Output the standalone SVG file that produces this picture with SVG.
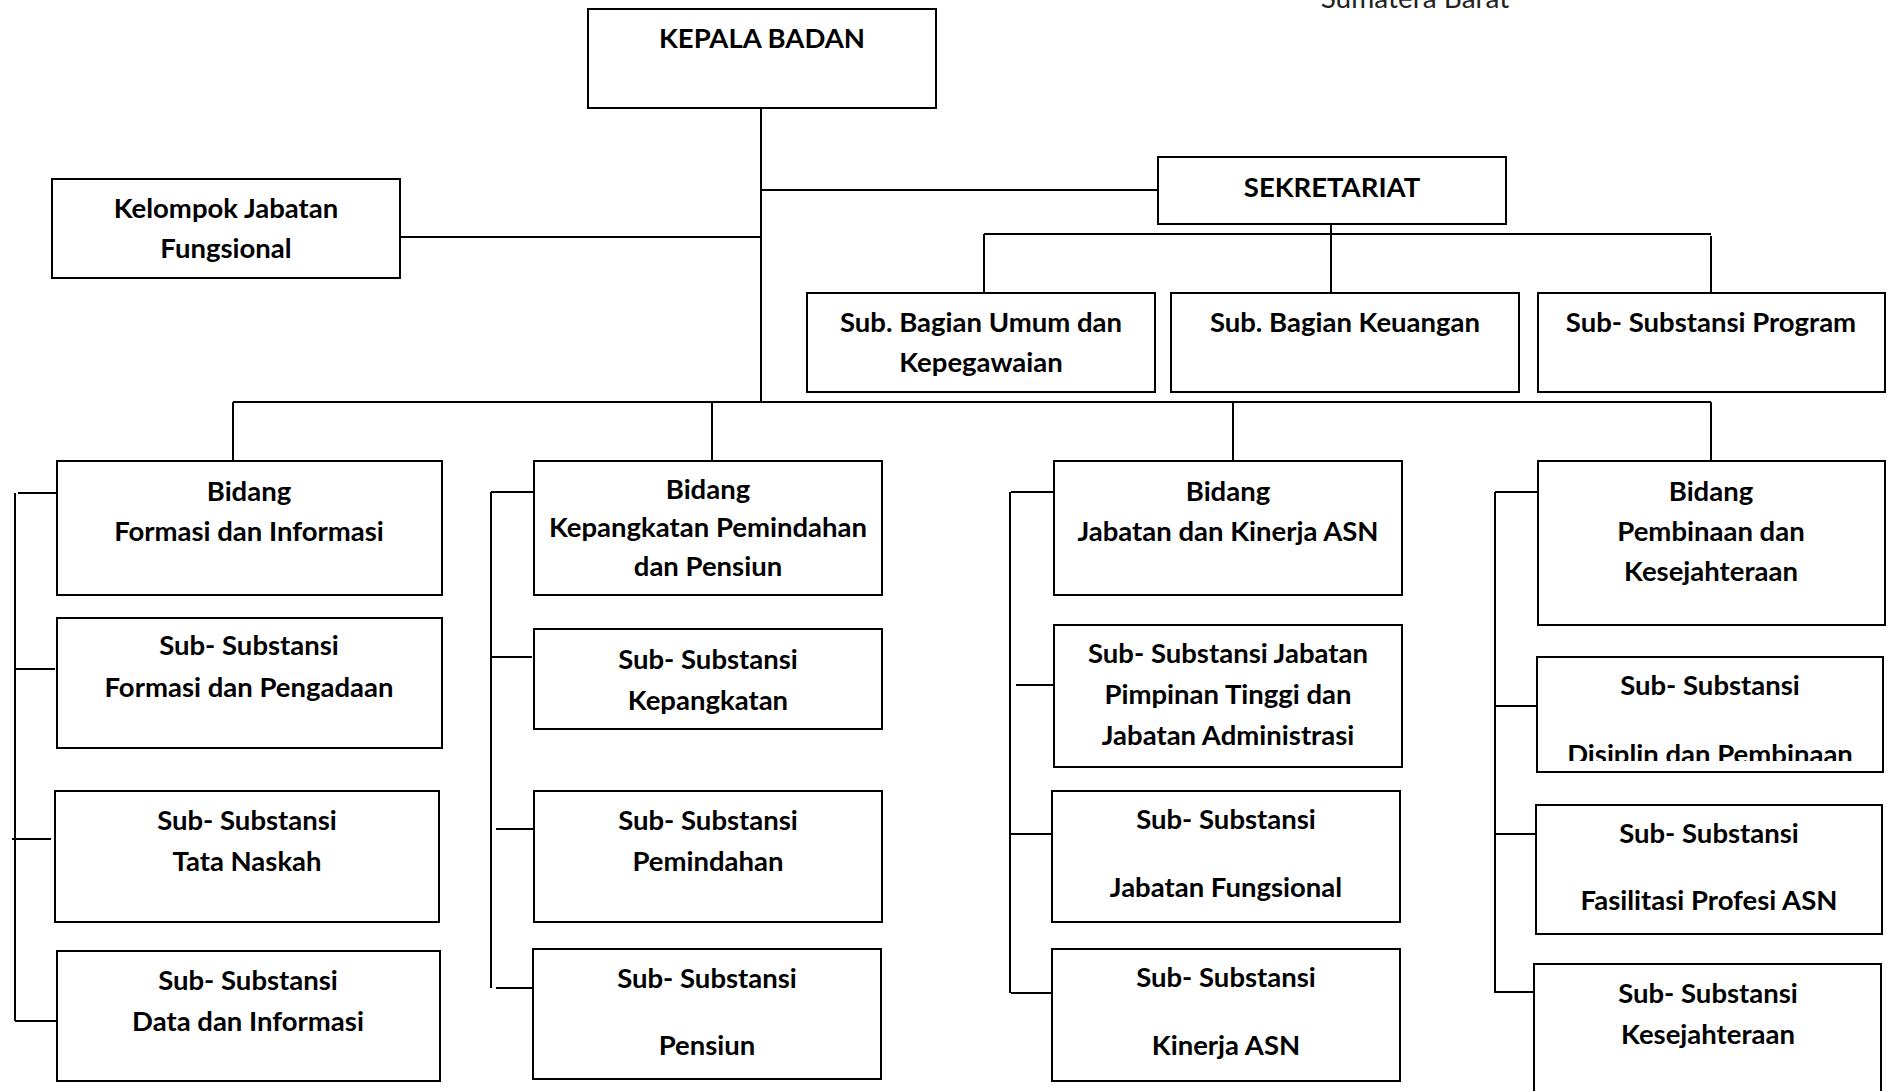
<svg xmlns="http://www.w3.org/2000/svg" width="1887" height="1091" viewBox="0 0 1887 1091">
<style>
  .box { fill: #ffffff; stroke: #000000; stroke-width: 2; }
  .t { font-family: Lato, "Liberation Sans", sans-serif; font-weight: bold; font-size: 27.5px; fill: #000000; text-anchor: middle; }
  .hdr { font-family: Lato, "Liberation Sans", sans-serif; font-size: 28px; fill: #222222; text-anchor: middle; }
  .c { stroke: #000000; stroke-width: 2; fill: none; }
</style>
<defs>
  <clipPath id="clipDisiplin"><rect x="1537" y="657" width="346" height="104"/></clipPath>
</defs>
<rect width="1887" height="1091" fill="#ffffff"/>
<text class="hdr" x="1415" y="8">Sumatera Barat</text>

<g id="connectors">
  <path class="c" d="M761 108 V402"/>
  <path class="c" d="M761 190 H1158"/>
  <path class="c" d="M400 237 H760"/>
  <path class="c" d="M1331 224 V293"/>
  <path class="c" d="M984 234 H1711"/>
  <path class="c" d="M984 234 V293"/>
  <path class="c" d="M1711 236 V293"/>
  <path class="c" d="M233 402 H1711"/>
  <path class="c" d="M233 402 V461"/>
  <path class="c" d="M712 402 V461"/>
  <path class="c" d="M1233 402 V461"/>
  <path class="c" d="M1711 402 V461"/>
  <!-- column 1 bracket -->
  <path class="c" d="M15 493 V1021"/>
  <path class="c" d="M18 493 H57"/>
  <path class="c" d="M15 669 H55"/>
  <path class="c" d="M12 839 H51"/>
  <path class="c" d="M15 1021 H57"/>
  <!-- column 2 bracket -->
  <path class="c" d="M491 492 V988"/>
  <path class="c" d="M491 492 H534"/>
  <path class="c" d="M491 657 H532"/>
  <path class="c" d="M496 829 H534"/>
  <path class="c" d="M496 988 H533"/>
  <!-- column 3 bracket -->
  <path class="c" d="M1010 492 V993"/>
  <path class="c" d="M1011 492 H1054"/>
  <path class="c" d="M1016 685 H1054"/>
  <path class="c" d="M1011 834 H1052"/>
  <path class="c" d="M1011 993 H1052"/>
  <!-- column 4 bracket -->
  <path class="c" d="M1495 492 V992"/>
  <path class="c" d="M1495 492 H1538"/>
  <path class="c" d="M1495 706 H1537"/>
  <path class="c" d="M1495 834 H1536"/>
  <path class="c" d="M1494 992 H1534"/>
</g>

<g id="kepala-badan">
  <rect class="box" x="588" y="9" width="348" height="99"/>
  <text class="t" x="762" y="48">KEPALA BADAN</text>
</g>
<g id="sekretariat">
  <rect class="box" x="1158" y="157" width="348" height="67"/>
  <text class="t" x="1332" y="197">SEKRETARIAT</text>
</g>
<g id="kelompok-jabatan-fungsional">
  <rect class="box" x="52" y="179" width="348" height="99"/>
  <text class="t" x="226" y="218">Kelompok Jabatan</text>
  <text class="t" x="226" y="258">Fungsional</text>
</g>
<g id="sub-bagian-umum">
  <rect class="box" x="807" y="293" width="348" height="99"/>
  <text class="t" x="981" y="332">Sub. Bagian Umum dan</text>
  <text class="t" x="981" y="372">Kepegawaian</text>
</g>
<g id="sub-bagian-keuangan">
  <rect class="box" x="1171" y="293" width="348" height="99"/>
  <text class="t" x="1345" y="332">Sub. Bagian Keuangan</text>
</g>
<g id="sub-substansi-program">
  <rect class="box" x="1538" y="293" width="347" height="99"/>
  <text class="t" x="1711" y="332">Sub- Substansi Program</text>
</g>

<!-- Column 1 -->
<g id="bidang-formasi">
  <rect class="box" x="57" y="461" width="385" height="134"/>
  <text class="t" x="249" y="501">Bidang</text>
  <text class="t" x="249" y="541">Formasi dan Informasi</text>
</g>
<g id="ss-formasi-pengadaan">
  <rect class="box" x="57" y="618" width="385" height="130"/>
  <text class="t" x="249" y="655">Sub- Substansi</text>
  <text class="t" x="249" y="697">Formasi dan Pengadaan</text>
</g>
<g id="ss-tata-naskah">
  <rect class="box" x="55" y="791" width="384" height="131"/>
  <text class="t" x="247" y="830">Sub- Substansi</text>
  <text class="t" x="247" y="871">Tata Naskah</text>
</g>
<g id="ss-data-informasi">
  <rect class="box" x="57" y="951" width="383" height="130"/>
  <text class="t" x="248" y="990">Sub- Substansi</text>
  <text class="t" x="248" y="1031">Data dan Informasi</text>
</g>

<!-- Column 2 -->
<g id="bidang-kepangkatan">
  <rect class="box" x="534" y="461" width="348" height="134"/>
  <text class="t" x="708" y="499">Bidang</text>
  <text class="t" x="708" y="537">Kepangkatan Pemindahan</text>
  <text class="t" x="708" y="576">dan Pensiun</text>
</g>
<g id="ss-kepangkatan">
  <rect class="box" x="534" y="629" width="348" height="100"/>
  <text class="t" x="708" y="669">Sub- Substansi</text>
  <text class="t" x="708" y="710">Kepangkatan</text>
</g>
<g id="ss-pemindahan">
  <rect class="box" x="534" y="791" width="348" height="131"/>
  <text class="t" x="708" y="830">Sub- Substansi</text>
  <text class="t" x="708" y="871">Pemindahan</text>
</g>
<g id="ss-pensiun">
  <rect class="box" x="533" y="949" width="348" height="130"/>
  <text class="t" x="707" y="988">Sub- Substansi</text>
  <text class="t" x="707" y="1055">Pensiun</text>
</g>

<!-- Column 3 -->
<g id="bidang-jabatan-kinerja">
  <rect class="box" x="1054" y="461" width="348" height="134"/>
  <text class="t" x="1228" y="501">Bidang</text>
  <text class="t" x="1228" y="541">Jabatan dan Kinerja ASN</text>
</g>
<g id="ss-jpt-administrasi">
  <rect class="box" x="1054" y="625" width="348" height="142"/>
  <text class="t" x="1228" y="663">Sub- Substansi Jabatan</text>
  <text class="t" x="1228" y="704">Pimpinan Tinggi dan</text>
  <text class="t" x="1228" y="745">Jabatan Administrasi</text>
</g>
<g id="ss-jabatan-fungsional">
  <rect class="box" x="1052" y="791" width="348" height="131"/>
  <text class="t" x="1226" y="829">Sub- Substansi</text>
  <text class="t" x="1226" y="897">Jabatan Fungsional</text>
</g>
<g id="ss-kinerja-asn">
  <rect class="box" x="1052" y="949" width="348" height="132"/>
  <text class="t" x="1226" y="987">Sub- Substansi</text>
  <text class="t" x="1226" y="1055">Kinerja ASN</text>
</g>

<!-- Column 4 -->
<g id="bidang-pembinaan">
  <rect class="box" x="1538" y="461" width="347" height="164"/>
  <text class="t" x="1711" y="501">Bidang</text>
  <text class="t" x="1711" y="541">Pembinaan dan</text>
  <text class="t" x="1711" y="581">Kesejahteraan</text>
</g>
<g id="ss-disiplin">
  <rect class="box" x="1537" y="657" width="346" height="115"/>
  <text class="t" x="1710" y="695">Sub- Substansi</text>
  <text class="t" x="1710" y="764" clip-path="url(#clipDisiplin)">Disiplin dan Pembinaan</text>
</g>
<g id="ss-fasilitasi">
  <rect class="box" x="1536" y="805" width="346" height="129"/>
  <text class="t" x="1709" y="843">Sub- Substansi</text>
  <text class="t" x="1709" y="910">Fasilitasi Profesi ASN</text>
</g>
<g id="ss-kesejahteraan">
  <rect class="box" x="1534" y="964" width="347" height="140"/>
  <text class="t" x="1708" y="1003">Sub- Substansi</text>
  <text class="t" x="1708" y="1044">Kesejahteraan</text>
</g>
</svg>
